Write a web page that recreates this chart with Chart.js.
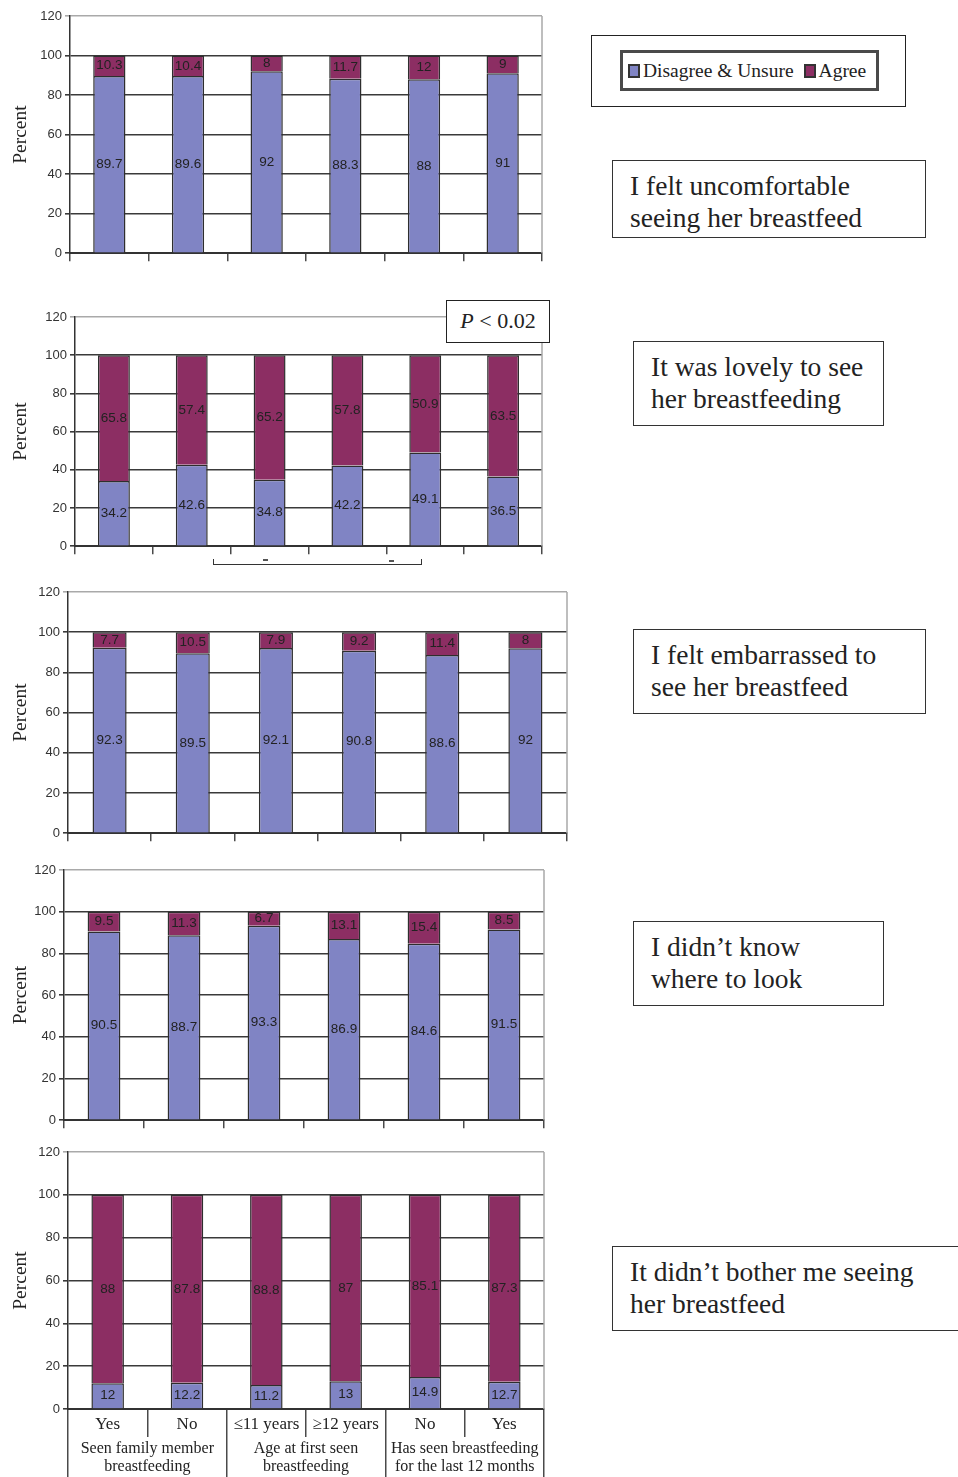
<!DOCTYPE html>
<html lang="en">
<head>
<meta charset="UTF-8">
<title>Attitudes to seeing breastfeeding</title>
<script src="https://cdn.jsdelivr.net/npm/chart.js@4.4.1/dist/chart.umd.min.js"></script>
<style>
    body { margin:0; background:#fff; font-family:"Liberation Serif","Times New Roman",serif; color:#222; }
    #page { position:relative; width:958px; height:1477px; overflow:hidden; background:#fff; }
    .chartBox { position:absolute; left:0; }
    .note { position:absolute; border:1.5px solid #333; box-sizing:border-box; background:#fff;
            font-family:"Liberation Serif","Times New Roman",serif;
            font-size:27.5px; line-height:32px; padding:9px 0 0 17px; white-space:nowrap; }
    #pbox { position:absolute; left:446px; top:300px; width:104px; height:43px; box-sizing:border-box;
            font-family:"Liberation Serif","Times New Roman",serif;
            border:1.5px solid #222; background:#fff; font-size:22px; line-height:40px; text-align:center; }
    #legendOuter { position:absolute; left:591px; top:35px; width:315px; height:72px; box-sizing:border-box; border:1.5px solid #222; }
    #legendInner { position:absolute; left:28px; top:14px; width:259px; height:41px; box-sizing:border-box;
                   font-family:"Liberation Serif","Times New Roman",serif; white-space:nowrap;
                   border:3px solid #4a4a4a; display:flex; align-items:center; padding-left:5px; font-size:19.5px; }
    .sw { display:inline-block; width:8px; height:10px; border:2px solid #333; margin:0 3px 0 0; flex-shrink:0; }
    .item { display:flex; align-items:center; margin-right:10px; flex-shrink:0; white-space:nowrap; }
    #bracket { position:absolute; left:213px; top:559px; width:209px; height:6px; box-sizing:border-box;
               border:1.5px solid #333; border-top:none; }
    .dash { position:absolute; width:5px; height:2px; background:#555; }
</style>
</head>
<body>
<div id="page">
    <div class="chartBox" id="box1"><canvas id="c1"></canvas></div>
    <div class="chartBox" id="box2"><canvas id="c2"></canvas></div>
    <div class="chartBox" id="box3"><canvas id="c3"></canvas></div>
    <div class="chartBox" id="box4"><canvas id="c4"></canvas></div>
    <div class="chartBox" id="box5"><canvas id="c5"></canvas></div>

    <div id="legendOuter"><div id="legendInner"></div></div>

    <div class="note" style="left:612px;top:160px;width:314px;height:78px;">I felt uncomfortable<br>seeing her breastfeed</div>
    <div class="note" style="left:633px;top:341px;width:251px;height:85px;">It was lovely to see<br>her breastfeeding</div>
    <div class="note" style="left:633px;top:629px;width:293px;height:85px;">I felt embarrassed to<br>see her breastfeed</div>
    <div class="note" style="left:633px;top:921px;width:251px;height:85px;">I didn’t know<br>where to look</div>
    <div class="note" style="left:612px;top:1246px;width:360px;height:85px;">It didn’t bother me seeing<br>her breastfeed</div>

    <div id="pbox"><i>P</i> &lt; 0.02</div>
    <div id="bracket"></div>
    <div class="dash" style="left:263px;top:559px;"></div>
    <div class="dash" style="left:389px;top:560px;"></div>
</div>

<script>
    // data
    var seriesNames = ["Disagree & Unsure", "Agree"];
    var seriesColors = ["#8084c4", "#8c2e63"];
    var categories = ["Yes", "No", "≤11 years", "≥12 years", "No", "Yes"];
    var groupLabels = [["Seen family member", "breastfeeding"],
                       ["Age at first seen", "breastfeeding"],
                       ["Has seen breastfeeding", "for the last 12 months"]];
    var yMax = 120, yStep = 20;

    var uncomfortableDisagree = [89.7, 89.6, 92, 88.3, 88, 91];
    var uncomfortableAgree    = [10.3, 10.4, 8, 11.7, 12, 9];
    var lovelyDisagree        = [34.2, 42.6, 34.8, 42.2, 49.1, 36.5];
    var lovelyAgree           = [65.8, 57.4, 65.2, 57.8, 50.9, 63.5];
    var embarrassedDisagree   = [92.3, 89.5, 92.1, 90.8, 88.6, 92];
    var embarrassedAgree      = [7.7, 10.5, 7.9, 9.2, 11.4, 8];
    var whereLookDisagree     = [90.5, 88.7, 93.3, 86.9, 84.6, 91.5];
    var whereLookAgree        = [9.5, 11.3, 6.7, 13.1, 15.4, 8.5];
    var botherDisagree        = [12, 12.2, 11.2, 13, 14.9, 12.7];
    var botherAgree           = [88, 87.8, 88.8, 87, 85.1, 87.3];

    var serif = "'Liberation Serif', 'Times New Roman', serif";
    var sans = "'Liberation Sans', Arial, sans-serif";

    // legend
    var legendHtml = "";
    for (var k = 0; k < seriesNames.length; k++) {
        legendHtml += '<span class="item"><span class="sw" style="background:' + seriesColors[k] + '"></span>' +
                      seriesNames[k].replace("&", "&amp;") + '</span>';
    }
    document.getElementById("legendInner").innerHTML = legendHtml;

    // value in the middle of every segment
    var segmentLabels = {
        id: "segmentLabels",
        afterDatasetsDraw: function(chart) {
            var ctx = chart.ctx;
            ctx.save();
            ctx.font = "13.5px " + sans;
            ctx.fillStyle = "#222";
            ctx.textAlign = "center";
            ctx.textBaseline = "middle";
            chart.data.datasets.forEach(function(ds, i) {
                chart.getDatasetMeta(i).data.forEach(function(bar, j) {
                    var p = bar.getProps(["x", "y", "base"], true);
                    ctx.fillText(String(ds.data[j]), p.x, (p.y + p.base) / 2);
                });
            });
            ctx.restore();
        }
    };

    // light grey right edge of the plot
    var plotFrame = {
        id: "plotFrame",
        beforeDatasetsDraw: function(chart) {
            var a = chart.chartArea, ctx = chart.ctx;
            ctx.save();
            ctx.strokeStyle = "#a9a9a9";
            ctx.lineWidth = 1.5;
            ctx.beginPath();
            ctx.moveTo(a.right, a.top);
            ctx.lineTo(a.right, a.bottom);
            ctx.stroke();
            ctx.restore();
        }
    };

    var panels = [
        { box: "box1", canvas: "c1", dis: uncomfortableDisagree, agr: uncomfortableAgree, L: 70, R: 542, T: 16,   B: 256 },
        { box: "box2", canvas: "c2", dis: lovelyDisagree,        agr: lovelyAgree,        L: 75, R: 542, T: 317,  B: 549 },
        { box: "box3", canvas: "c3", dis: embarrassedDisagree,   agr: embarrassedAgree,   L: 68, R: 567, T: 592,  B: 836 },
        { box: "box4", canvas: "c4", dis: whereLookDisagree,     agr: whereLookAgree,     L: 64, R: 544, T: 870,  B: 1123 },
        { box: "box5", canvas: "c5", dis: botherDisagree,        agr: botherAgree,        L: 68, R: 544, T: 1152, B: 1409, labelled: true }
    ];

    panels.forEach(function(p) {
        var padTop = 12, padRight = 10;
        var xh = p.labelled ? 28 : 8;
        var x2h = p.labelled ? 40 : 0;
        var box = document.getElementById(p.box);
        box.style.top = (p.T - padTop) + "px";
        box.style.width = (p.R + padRight) + "px";
        box.style.height = (p.B - p.T + padTop + xh + x2h) + "px";

        var scales = {
            x: {
                stacked: true,
                offset: true,
                grid: { offset: true, drawOnChartArea: false, drawTicks: true, tickLength: xh, color: "#4a4a4a", lineWidth: 1.5 },
                border: { display: true, color: "#333", width: 2 },
                ticks: p.labelled
                    ? { display: true, color: "#222", font: { family: serif, size: 17 }, padding: -23, maxRotation: 0, autoSkip: false }
                    : { display: false },
                afterFit: function(s) { s.height = xh; }
            },
            y: {
                stacked: true,
                min: 0,
                max: yMax,
                ticks: { stepSize: yStep, color: "#333", font: { family: sans, size: 13 }, padding: 3 },
                grid: {
                    tickLength: 5,
                    lineWidth: 1.6,
                    color: function(c) { return c.tick && c.tick.value === yMax ? "#a9a9a9" : "#3a3a3a"; }
                },
                border: { display: true, color: "#333", width: 1.5 },
                title: { display: true, text: "Percent", color: "#222", font: { family: serif, size: 19.5 }, padding: { top: 9, bottom: 0 } },
                afterFit: function(s) { s.width = p.L; }
            }
        };
        if (p.labelled) {
            scales.x2 = {
                type: "category",
                labels: groupLabels,
                position: "bottom",
                offset: true,
                grid: { offset: true, drawOnChartArea: false, drawTicks: true, tickLength: x2h, color: "#4a4a4a", lineWidth: 1.5 },
                border: { display: false },
                ticks: { color: "#222", font: { family: serif, size: 16, lineHeight: 1.12 }, padding: -37, maxRotation: 0, autoSkip: false },
                afterFit: function(s) { s.height = x2h; }
            };
        }

        new Chart(document.getElementById(p.canvas), {
            type: "bar",
            data: {
                labels: categories,
                datasets: [
                    { label: seriesNames[0], data: p.dis, backgroundColor: seriesColors[0], borderColor: "#2e2e2e", borderWidth: 1.5,
                      categoryPercentage: 1, barPercentage: 0.41 },
                    { label: seriesNames[1], data: p.agr, backgroundColor: seriesColors[1], borderColor: "#2e2e2e", borderWidth: 1.5,
                      categoryPercentage: 1, barPercentage: 0.41 }
                ]
            },
            options: {
                responsive: true,
                maintainAspectRatio: false,
                animation: false,
                layout: { padding: { top: padTop, right: padRight, bottom: 0, left: 0 } },
                plugins: { legend: { display: false }, tooltip: { enabled: false } },
                scales: scales
            },
            plugins: [plotFrame, segmentLabels]
        });
    });
</script>
</body>
</html>
